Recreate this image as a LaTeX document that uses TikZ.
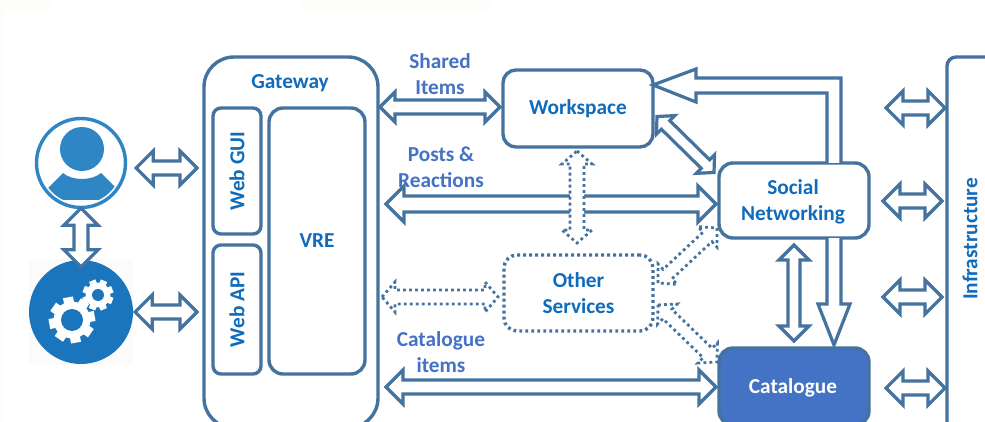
\documentclass[tikz,border=0pt]{standalone}
\usepackage{fontspec}
\setmainfont{Carlito}
\usetikzlibrary{calc}
\definecolor{steel}{HTML}{44739F}
\definecolor{headblue}{HTML}{0F6CBD}
\definecolor{labelblue}{HTML}{4472C4}
\definecolor{userblue}{HTML}{2E86C4}
\definecolor{gearblue}{HTML}{1B75BC}
\definecolor{paleband}{HTML}{FFFDFA}
\tikzset{
  box/.style={draw=steel,line width=3.4pt,rounded corners=#1,inner sep=0pt,outer sep=0pt,fill=white,align=center,font=\fontsize{21.3}{26}\selectfont\bfseries,text=headblue},
  box/.default=13pt,
  dotbox/.style={box,draw=steel,dash pattern=on 2.8pt off 3.2pt},
  edgelabel/.style={font=\fontsize{21.3}{26}\selectfont\bfseries,text=labelblue,align=center,inner sep=0pt},
  blockarrow/.style={draw=steel,line width=3.2pt,fill=white,line join=miter},
  dotarrow/.style={draw=steel,line width=2.8pt,fill=white,dash pattern=on 2.8pt off 3.2pt},
}
% #1 style, #2 #3 tip coordinates, #4 half shaft, #5 head length, #6 half head
\newcommand{\twoway}[6][blockarrow]{%
  \coordinate (pa) at ($(#2)!#5pt!(#3)$);
  \coordinate (pb) at ($(#3)!#5pt!(#2)$);
  \draw[#1] (#2) -- ($(pa)!#6pt!90:(#3)$) -- ($(pa)!#4pt!90:(#3)$)
    -- ($(pb)!#4pt!-90:(#2)$) -- ($(pb)!#6pt!-90:(#2)$) -- (#3)
    -- ($(pb)!#6pt!90:(#2)$) -- ($(pb)!#4pt!90:(#2)$)
    -- ($(pa)!#4pt!-90:(#3)$) -- ($(pa)!#6pt!-90:(#3)$) -- cycle;
}
\newcommand{\gearicon}[5]{%
  \begin{scope}[shift={(#1,#2)}]
    \foreach \a in {0,45,...,315}{
      \fill[white,rotate=\a+#5] (-0.22*#3,0) rectangle (0.22*#3,#3);
    }
    \fill[white] (0,0) circle ({0.8*#3});
    \fill[gearblue] (0,0) circle (#4);
  \end{scope}
}
\begin{document}
\begin{tikzpicture}[x=1pt,y=-1pt]
\useasboundingbox (0,0) rectangle (985,422);
\clip (0,0) rectangle (985,422);
\fill[white] (0,0) rectangle (985,422);
\fill[paleband] (300,0) rectangle (490,10);
\fill[paleband] (0,0) rectangle (50,10);
\fill[paleband] (0,10) rectangle (3,422);
% nodes
\node[circle,draw=userblue,line width=3.4pt,minimum size=89pt,inner sep=0pt,fill=white] (user) at (81,163) {};
\fill[black!1.5] (29,259) rectangle (133,365);
\node[circle,fill=gearblue,minimum size=104pt,inner sep=0pt] (service) at (81,312) {};
\fill[userblue] (82,149) circle (22);
\begin{scope}
  \clip (81,163) circle (41);
  \fill[userblue] (46,190) -- (63,173) .. controls (72,181) and (92,181) .. (101,173) -- (118,190) -- (118,200) -- (46,200) -- cycle;
\end{scope}
\gearicon{72}{320}{23}{11}{10}
\gearicon{98}{295}{15.5}{6}{22}
\node[box=30pt,minimum width=174pt,minimum height=371pt,anchor=north west] (gateway) at (204,57) {};
\node[font=\fontsize{21.3}{24}\selectfont\bfseries,text=headblue,inner sep=0pt] (gatewaylabel) at (290,83) {Gateway};
\node[box=8pt,minimum width=48pt,minimum height=126pt] (webgui) at (237,171) {\rotatebox{90}{Web GUI}};
\node[box=8pt,minimum width=48pt,minimum height=129pt] (webapi) at (237,309.5) {\rotatebox{90}{Web API}};
\node[box=14pt,minimum width=96pt,minimum height=266pt] (vre) at (317,241) {VRE};
\node[box,minimum width=150pt,minimum height=77pt] (workspace) at (578,108.5) {Workspace};
\node[box=14pt,minimum width=150pt,minimum height=75pt] (social) at (794,200.5) {};
\node[font=\fontsize{21.3}{26}\selectfont\bfseries,text=headblue,align=center,inner sep=0pt] (socialtext) at (793,202) {Social\\Networking};
\node[dotbox,minimum width=149pt,minimum height=76pt] (other) at (578.5,293) {Other\\Services};
\node[box=14pt,fill=labelblue,text=white,minimum width=150pt,minimum height=77pt] (catalogue) at (794,386.5) {};
\node[font=\fontsize{21.3}{26}\selectfont\bfseries,text=white,inner sep=0pt] (cataloguetext) at (793,388) {Catalogue};
\node[box=9pt,minimum width=80pt,minimum height=400pt,anchor=north west] (infra) at (947,57) {};
\node[font=\fontsize{21.3}{24}\selectfont\bfseries,text=headblue,inner sep=0pt,rotate=90] (infralabel) at (970,239) {Infrastructure};
% arrow ends
\coordinate (u1) at ($(user.east)+(9,5)$);
\coordinate (u2) at (gateway.west |- 0,168);
\coordinate (u2s) at ($(u2)+(-7,0)$);
\coordinate (s1) at ($(service.east)+(2,0)$);
\coordinate (s2) at (gateway.west |- 0,312);
\coordinate (s2s) at ($(s2)+(-7,0)$);
\coordinate (us1) at ($(user.south)+(0,-1)$);
\coordinate (us2) at ($(service.north)+(0,7)$);
\coordinate (g1) at (gateway.east |- 0,107);
\coordinate (g1s) at ($(g1)+(2,0)$);
\coordinate (w1) at ($(workspace.west)+(-3,-1.5)$);
\coordinate (g2) at (386,204);
\coordinate (n1) at ($(social.west)+(-3,3.5)$);
\coordinate (g3) at (382,297);
\coordinate (o1) at ($(other.west)+(-6,4)$);
\coordinate (g4) at (386,387);
\coordinate (c1) at ($(catalogue.west)+(-3,0.5)$);
\coordinate (w2) at ($(workspace.south)+(-1,4)$);
\coordinate (o2) at ($(other.north)+(-1.5,-12)$);
\coordinate (w3) at (657,116.5);
\coordinate (n2) at (714,172.5);
\coordinate (o3) at (658,283);
\coordinate (n3) at (717,228);
\coordinate (o4) at (658,305);
\coordinate (c2) at (717,362);
\coordinate (n4) at ($(social.south)+(0,7)$);
\coordinate (c3) at ($(catalogue.north)+(0,-7)$);
\coordinate (i1a) at (886,108);
\coordinate (i1b) at (945,108);
\coordinate (n5) at ($(social.east)+(14,0.5)$);
\coordinate (i2b) at (942,201);
\coordinate (i3a) at (883,297);
\coordinate (i3b) at (942,297);
\coordinate (c4) at (886,388);
\coordinate (i4b) at (945,388);
% connectors
\twoway{u1}{u2s}{7}{17}{17}
\twoway{s1}{s2s}{7}{17}{17}
\twoway{us1}{us2}{7}{17}{17}
\twoway{g1s}{w1}{7}{15}{15}
\twoway{g2}{n1}{8}{18}{18}
\twoway[dotarrow]{g3}{o1}{7}{13}{15}
\twoway{g4}{c1}{7}{17}{17}
\twoway[dotarrow]{w2}{o2}{7}{13}{15}
\twoway{w3}{n2}{6}{12}{13}
\twoway[dotarrow]{o3}{n3}{6.5}{13}{14}
\twoway[dotarrow]{o4}{c2}{6.5}{13}{14}
\twoway{n4}{c3}{6}{15}{15}
\twoway{i1a}{i1b}{7}{17}{17}
\twoway{n5}{i2b}{7}{17}{17}
\twoway{i3a}{i3b}{7}{17}{17}
\twoway{c4}{i4b}{7}{17}{17}
% one-way block arrows
\draw[blockarrow] (social.north -| 827,0) -- (827,93) -- (696,93) -- (696,102) -- (workspace.east |- 0,85) -- (696,69) -- (696,78) -- (841,78) -- (social.north -| 841,0);
\draw[blockarrow] (social.south -| 827,0) -- (827,304) -- (818,304) -- (834,345) -- (850,304) -- (841,304) -- (social.south -| 841,0);
% labels
\node[edgelabel] (shared) at (440,74) {Shared\\Items};
\node[edgelabel] (posts) at (441,167) {Posts \&\\Reactions};
\node[edgelabel] (catitems) at (441,352) {Catalogue\\items};
\end{tikzpicture}
\end{document}
